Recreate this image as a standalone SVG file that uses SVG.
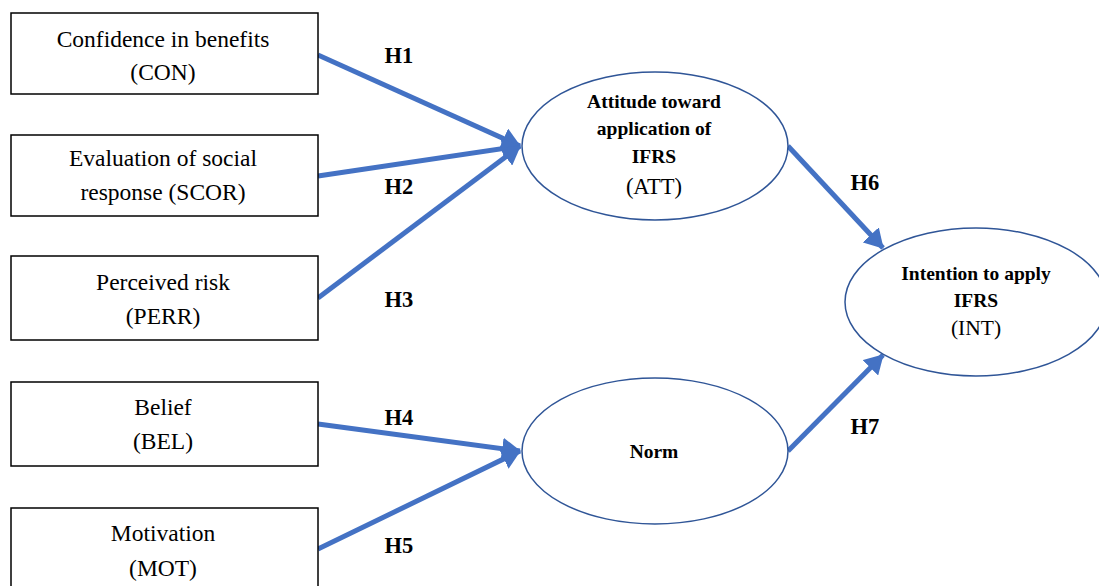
<svg xmlns="http://www.w3.org/2000/svg" width="1099" height="586" viewBox="0 0 1099 586">
<style>
.box{fill:#fff;stroke:#000;stroke-width:1.5}
.ell{fill:#fff;stroke:#2F5597;stroke-width:1.5}
.t{font-family:"Liberation Serif",serif;font-size:23.5px;text-anchor:middle;fill:#000}
.b{font-family:"Liberation Serif",serif;font-size:19.5px;font-weight:bold;text-anchor:middle;fill:#000}
.h{font-family:"Liberation Serif",serif;font-size:22.5px;font-weight:bold;text-anchor:middle;fill:#000}
.c{stroke:#4472C4;stroke-width:5;fill:none;marker-end:url(#ah)}
</style>
<defs>
<marker id="ah" markerUnits="userSpaceOnUse" markerWidth="20" markerHeight="22" refX="18" refY="11" orient="auto">
<path d="M0,0 L19,11 L0,22 Z" fill="#4472C4"/>
</marker>
</defs>
<rect width="1099" height="586" fill="#fff"/>
<g id="connectors">
<line class="c" x1="318" y1="55" x2="520" y2="146"/>
<line class="c" x1="318" y1="176" x2="520" y2="146"/>
<line class="c" x1="318" y1="298" x2="520" y2="146"/>
<line class="c" x1="318" y1="424" x2="520" y2="451"/>
<line class="c" x1="318" y1="549" x2="520" y2="451"/>
<line class="c" x1="788" y1="146" x2="883" y2="248"/>
<line class="c" x1="788" y1="451" x2="883" y2="355"/>
</g>
<g id="labels">
<text class="h" x="399" y="63">H1</text>
<text class="h" x="399" y="194">H2</text>
<text class="h" x="399" y="307">H3</text>
<text class="h" x="399" y="425">H4</text>
<text class="h" x="399" y="553">H5</text>
<text class="h" x="865" y="190">H6</text>
<text class="h" x="865" y="434">H7</text>
</g>
<g id="CON">
<rect class="box" x="11" y="13" width="307" height="81"/>
<text class="t" x="163" y="47">Confidence in benefits</text>
<text class="t" x="163" y="80">(CON)</text>
</g>
<g id="SCOR">
<rect class="box" x="11" y="135" width="307" height="81"/>
<text class="t" x="163" y="166">Evaluation of social</text>
<text class="t" x="163" y="200">response (SCOR)</text>
</g>
<g id="PERR">
<rect class="box" x="11" y="256" width="307" height="84"/>
<text class="t" x="163" y="290">Perceived risk</text>
<text class="t" x="163" y="324">(PERR)</text>
</g>
<g id="BEL">
<rect class="box" x="11" y="382" width="307" height="84"/>
<text class="t" x="163" y="415">Belief</text>
<text class="t" x="163" y="449">(BEL)</text>
</g>
<g id="MOT">
<rect class="box" x="11" y="508" width="307" height="84"/>
<text class="t" x="163" y="541">Motivation</text>
<text class="t" x="163" y="576">(MOT)</text>
</g>
<g id="ATT">
<ellipse class="ell" cx="655" cy="146" rx="133" ry="74"/>
<text class="b" x="654" y="108">Attitude toward</text>
<text class="b" x="654" y="135">application of</text>
<text class="b" x="654" y="163">IFRS</text>
<text class="t" x="654" y="194" style="font-size:22.5px">(ATT)</text>
</g>
<g id="NORM">
<ellipse class="ell" cx="655" cy="451" rx="133" ry="73"/>
<text class="b" x="654" y="458">Norm</text>
</g>
<g id="INT">
<ellipse class="ell" cx="976" cy="302" rx="131" ry="74"/>
<text class="b" x="976" y="280">Intention to apply</text>
<text class="b" x="976" y="307">IFRS</text>
<text class="t" x="976" y="335" style="font-size:21.5px">(INT)</text>
</g>
</svg>
